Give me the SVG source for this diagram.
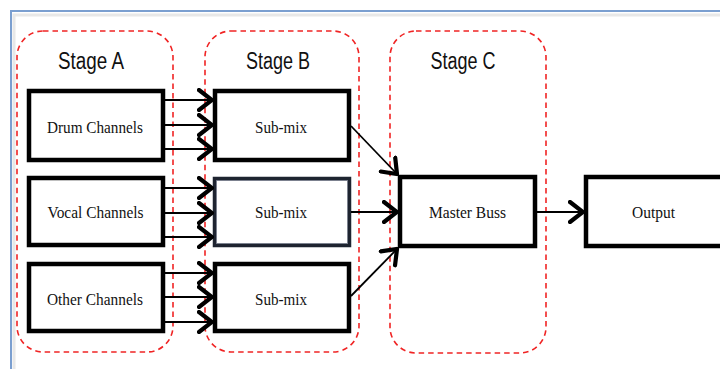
<svg xmlns="http://www.w3.org/2000/svg" width="720" height="369" viewBox="0 0 720 369">
<defs>
<style>
.frame{fill:none;stroke:#7b9fd0;stroke-width:2}
.stage{fill:none;stroke:#f02424;stroke-width:1.6;stroke-dasharray:5.5 4}
.shadow{fill:none;stroke:#e8e8e8;stroke-width:3}
.box{fill:#fff;stroke:#000;stroke-width:4.5}
.lbl{font-family:"Liberation Serif","Times New Roman",serif;font-size:16.5px;fill:#111;text-anchor:middle}
.title{font-family:"Liberation Sans",Arial,sans-serif;font-size:23px;fill:#111;text-anchor:middle}
.conn{fill:none;stroke:#000;stroke-width:1.8}
</style>
<marker id="chev" markerUnits="userSpaceOnUse" viewBox="-15 -12 17 24" refX="0" refY="0" markerWidth="17" markerHeight="24" orient="auto">
<path d="M-13,-10 L0,0 L-13,10" fill="none" stroke="#000" stroke-width="4.2" stroke-linecap="round" stroke-linejoin="miter"/>
</marker>
</defs>
<rect width="720" height="369" fill="#fff"/>
<path d="M12,369 V12 H720" class="shadow" transform="translate(2,3)"/>
<path d="M11,369 V11 H720" class="frame"/>

<g id="stageA">
<rect x="17" y="31" width="156" height="321" rx="26" class="stage"/>
<text x="91" y="69" class="title" textLength="66" lengthAdjust="spacingAndGlyphs">Stage A</text>
</g>
<g id="stageB">
<rect x="205" y="31" width="154" height="321" rx="26" class="stage"/>
<text x="278" y="69" class="title" textLength="64" lengthAdjust="spacingAndGlyphs">Stage B</text>
</g>
<g id="stageC">
<rect x="390" y="31" width="156" height="322" rx="26" class="stage"/>
<text x="463" y="69" class="title" textLength="65" lengthAdjust="spacingAndGlyphs">Stage C</text>
</g>

<g id="drum">
<rect x="29" y="91" width="134" height="69" class="box"/>
<text x="95" y="133" class="lbl" textLength="96" lengthAdjust="spacingAndGlyphs">Drum Channels</text>
</g>
<g id="vocal">
<rect x="29" y="178" width="134" height="67" class="box"/>
<text x="95.5" y="218" class="lbl" textLength="96" lengthAdjust="spacingAndGlyphs">Vocal Channels</text>
</g>
<g id="other">
<rect x="29" y="264" width="134" height="67" class="box"/>
<text x="95" y="305" class="lbl" textLength="96" lengthAdjust="spacingAndGlyphs">Other Channels</text>
</g>

<g id="submix1">
<rect x="215" y="91" width="134" height="69" class="box"/>
<text x="281" y="133" class="lbl" textLength="52" lengthAdjust="spacingAndGlyphs">Sub-mix</text>
</g>
<g id="submix2">
<rect x="214.5" y="178.5" width="135" height="67" fill="#fff" stroke="#1e2430" stroke-width="3.5"/>
<rect x="216.5" y="180.5" width="131" height="63" fill="none" stroke="#6a7080" stroke-width="0.8"/>
<text x="281" y="218" class="lbl" textLength="52" lengthAdjust="spacingAndGlyphs">Sub-mix</text>
</g>
<g id="submix3">
<rect x="215" y="264" width="134" height="67" class="box"/>
<text x="281" y="305" class="lbl" textLength="52" lengthAdjust="spacingAndGlyphs">Sub-mix</text>
</g>

<g id="master">
<rect x="400" y="177" width="135" height="69" class="box"/>
<text x="467.5" y="218" class="lbl" textLength="77" lengthAdjust="spacingAndGlyphs">Master Buss</text>
</g>
<g id="output">
<rect x="586" y="177" width="140" height="69" class="box"/>
<text x="653.5" y="218" class="lbl" textLength="43" lengthAdjust="spacingAndGlyphs">Output</text>
</g>

<g id="connectors">
<path d="M165,100 H212" class="conn" marker-end="url(#chev)"/>
<path d="M165,125 H212" class="conn" marker-end="url(#chev)"/>
<path d="M165,149 H212" class="conn" marker-end="url(#chev)"/>
<path d="M165,188 H212" class="conn" marker-end="url(#chev)"/>
<path d="M165,213 H212" class="conn" marker-end="url(#chev)"/>
<path d="M165,237 H212" class="conn" marker-end="url(#chev)"/>
<path d="M165,273 H212" class="conn" marker-end="url(#chev)"/>
<path d="M165,297 H212" class="conn" marker-end="url(#chev)"/>
<path d="M165,322 H212" class="conn" marker-end="url(#chev)"/>
<path d="M351,126 L397,174" class="conn" marker-end="url(#chev)"/>
<path d="M351,212 H397" class="conn" marker-end="url(#chev)"/>
<path d="M351,296 L397,249" class="conn" marker-end="url(#chev)"/>
<path d="M537,212 H583" class="conn" marker-end="url(#chev)"/>
</g>
</svg>
